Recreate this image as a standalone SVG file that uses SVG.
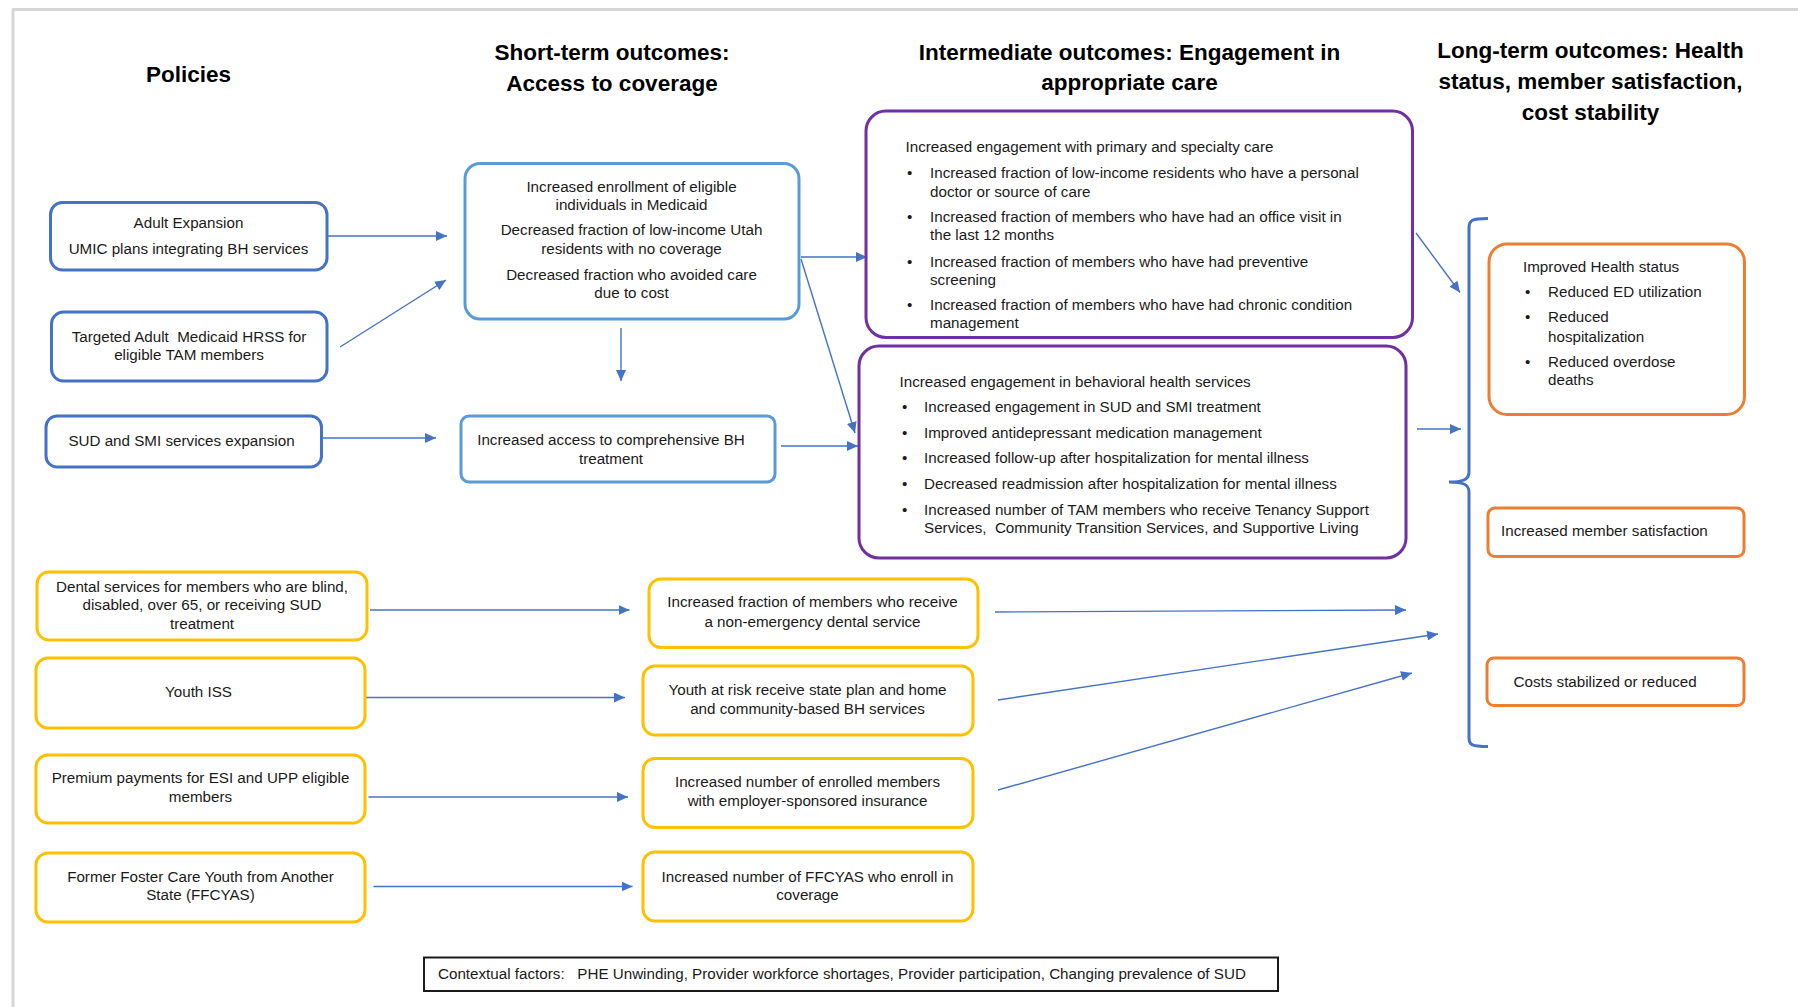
<svg xmlns="http://www.w3.org/2000/svg" width="1798" height="1007" viewBox="0 0 1798 1007">
<style>
text{font-family:"Liberation Sans",Arial,sans-serif;font-size:15.2px;fill:#1a1a1a}
.h{font-weight:bold;font-size:22.5px;fill:#000;text-anchor:middle}
.c{text-anchor:middle}
.pol{fill:#fff;stroke:#4472C4;stroke-width:3}
.st{fill:#fff;stroke:#5B9BD5;stroke-width:3}
.pur{fill:#fff;stroke:#7030A0;stroke-width:3}
.org{fill:#fff;stroke:#ED7D31;stroke-width:3}
.yel{fill:#fff;stroke:#FFC000;stroke-width:3}
.ctx{fill:#fff;stroke:#1a1a1a;stroke-width:2}
.ar{stroke:#4472C4;stroke-width:1.4;fill:none;marker-end:url(#ah)}
</style>
<defs>
<marker id="ah" viewBox="0 0 11 10" refX="11" refY="5" markerWidth="11" markerHeight="10" markerUnits="userSpaceOnUse" orient="auto">
<path d="M0,0 L11,5 L0,10 z" fill="#4472C4"/>
</marker>
</defs>
<rect width="1798" height="1007" fill="#fff"/>
<g id="frame" stroke="#d6d6d6" stroke-width="3" fill="none">
<line x1="12" y1="9.5" x2="1798" y2="9.5"/>
<line x1="13" y1="9.5" x2="13" y2="1007"/>
</g>
<g id="titles">
<text class="h" x="188.5" y="82">Policies</text>
<text class="h" x="612" y="60">Short-term outcomes:</text>
<text class="h" x="612" y="91">Access to coverage</text>
<text class="h" x="1129.5" y="60">Intermediate outcomes: Engagement in</text>
<text class="h" x="1129.5" y="90">appropriate care</text>
<text class="h" x="1590.5" y="58">Long-term outcomes: Health</text>
<text class="h" x="1590.5" y="89">status, member satisfaction,</text>
<text class="h" x="1590.5" y="120">cost stability</text>
</g>
<g id="connectors">
<line class="ar" x1="327" y1="236" x2="447" y2="236"/>
<line class="ar" x1="340" y1="347" x2="446" y2="280"/>
<line class="ar" x1="621" y1="328" x2="621" y2="381"/>
<line class="ar" x1="323" y1="438" x2="436" y2="438"/>
<line class="ar" x1="801" y1="257" x2="867" y2="257"/>
<line class="ar" x1="801" y1="259" x2="855" y2="433"/>
<line class="ar" x1="781" y1="446" x2="858" y2="446"/>
<line class="ar" x1="1416" y1="233" x2="1460" y2="292.5"/>
<line class="ar" x1="1417" y1="429" x2="1461" y2="429"/>
<line class="ar" x1="370" y1="610" x2="629.5" y2="610"/>
<line class="ar" x1="365" y1="697.5" x2="625" y2="697.5"/>
<line class="ar" x1="368.5" y1="797" x2="628" y2="797"/>
<line class="ar" x1="373.5" y1="886.5" x2="632.5" y2="886.5"/>
<line class="ar" x1="995" y1="612" x2="1406" y2="610"/>
<line class="ar" x1="998" y1="700" x2="1438" y2="634"/>
<line class="ar" x1="998" y1="790" x2="1412" y2="673"/>
<path id="bracket" d="M1488,218.5 C1472,218.5 1469,220 1469,228 L1469,472 C1469,480 1462,482 1449,482 C1462,482 1469,484 1469,492 L1469,738 C1469,745 1472,746.5 1488,746.5" fill="none" stroke="#4472C4" stroke-width="3"/>
</g>
<g id="adult-expansion">
<rect class="pol" x="50.5" y="202.5" width="276.5" height="67.5" rx="12"/>
<text class="c" x="188.5" y="228">Adult Expansion</text>
<text class="c" x="188.5" y="254">UMIC plans integrating BH services</text>
</g>
<g id="targeted-adult">
<rect class="pol" x="51.5" y="312" width="275.5" height="69" rx="12"/>
<text class="c" x="189" y="342" xml:space="preserve">Targeted Adult  Medicaid HRSS for</text>
<text class="c" x="189" y="360">eligible TAM members</text>
</g>
<g id="sud-smi">
<rect class="pol" x="46" y="416" width="275.5" height="51" rx="11"/>
<text class="c" x="181.5" y="446">SUD and SMI services expansion</text>
</g>
<g id="coverage-outcomes">
<rect class="st" x="465" y="163.5" width="334" height="155.5" rx="15"/>
<text class="c" x="631.5" y="192">Increased enrollment of eligible</text>
<text class="c" x="631.5" y="210">individuals in Medicaid</text>
<text class="c" x="631.5" y="235">Decreased fraction of low-income Utah</text>
<text class="c" x="631.5" y="254">residents with no coverage</text>
<text class="c" x="631.5" y="280">Decreased fraction who avoided care</text>
<text class="c" x="631.5" y="298">due to cost</text>
</g>
<g id="bh-access">
<rect class="st" x="461" y="416" width="314" height="66" rx="8"/>
<text class="c" x="611" y="445">Increased access to comprehensive BH</text>
<text class="c" x="611" y="464">treatment</text>
</g>
<g id="primary-care-engagement">
<rect class="pol pur" x="866" y="111" width="546.5" height="226.5" rx="20"/>
<text x="905.5" y="152">Increased engagement with primary and specialty care</text>
<text x="907" y="178">•</text><text x="930" y="178">Increased fraction of low-income residents who have a personal</text>
<text x="930" y="197">doctor or source of care</text>
<text x="907" y="222">•</text><text x="930" y="222">Increased fraction of members who have had an office visit in</text>
<text x="930" y="240">the last 12 months</text>
<text x="907" y="267">•</text><text x="930" y="267">Increased fraction of members who have had preventive</text>
<text x="930" y="285">screening</text>
<text x="907" y="310">•</text><text x="930" y="310">Increased fraction of members who have had chronic condition</text>
<text x="930" y="328">management</text>
</g>
<g id="bh-engagement">
<rect class="pur" x="859" y="346" width="547" height="212" rx="20"/>
<text x="899.5" y="387">Increased engagement in behavioral health services</text>
<text x="902" y="412">•</text><text x="924" y="412">Increased engagement in SUD and SMI treatment</text>
<text x="902" y="438">•</text><text x="924" y="438">Improved antidepressant medication management</text>
<text x="902" y="463">•</text><text x="924" y="463">Increased follow-up after hospitalization for mental illness</text>
<text x="902" y="489">•</text><text x="924" y="489">Decreased readmission after hospitalization for mental illness</text>
<text x="902" y="515">•</text><text x="924" y="515">Increased number of TAM members who receive Tenancy Support</text>
<text x="924" y="533" xml:space="preserve">Services,  Community Transition Services, and Supportive Living</text>
</g>
<g id="health-status">
<rect class="org" x="1489" y="244" width="255.5" height="170.5" rx="18"/>
<text x="1523" y="272">Improved Health status</text>
<text x="1525" y="297">•</text><text x="1548" y="297">Reduced ED utilization</text>
<text x="1525" y="322">•</text><text x="1548" y="322">Reduced</text>
<text x="1548" y="342">hospitalization</text>
<text x="1525" y="367">•</text><text x="1548" y="367">Reduced overdose</text>
<text x="1548" y="385">deaths</text>
</g>
<g id="member-satisfaction">
<rect class="org" x="1488" y="508" width="256" height="48.5" rx="7"/>
<text x="1501" y="536">Increased member satisfaction</text>
</g>
<g id="costs">
<rect class="org" x="1487" y="658" width="257" height="47.5" rx="7"/>
<text x="1513.5" y="687">Costs stabilized or reduced</text>
</g>
<g id="dental-policy">
<rect class="yel" x="37" y="572" width="330" height="68" rx="12"/>
<text class="c" x="202" y="591.5">Dental services for members who are blind,</text>
<text class="c" x="202" y="610">disabled, over 65, or receiving SUD</text>
<text class="c" x="202" y="629">treatment</text>
</g>
<g id="youth-iss">
<rect class="yel" x="36" y="658" width="329" height="70" rx="12"/>
<text class="c" x="198.5" y="697">Youth ISS</text>
</g>
<g id="premium-payments">
<rect class="yel" x="36" y="755" width="329" height="68" rx="12"/>
<text class="c" x="200.5" y="783">Premium payments for ESI and UPP eligible</text>
<text class="c" x="200.5" y="802">members</text>
</g>
<g id="ffcyas-policy">
<rect class="yel" x="36" y="853" width="329" height="69" rx="12"/>
<text class="c" x="200.5" y="882">Former Foster Care Youth from Another</text>
<text class="c" x="200.5" y="900">State (FFCYAS)</text>
</g>
<g id="dental-outcome">
<rect class="yel" x="649" y="579" width="329" height="68.5" rx="12"/>
<text class="c" x="812.5" y="607">Increased fraction of members who receive</text>
<text class="c" x="812.5" y="627">a non-emergency dental service</text>
</g>
<g id="youth-outcome">
<rect class="yel" x="643" y="666" width="330" height="69" rx="12"/>
<text class="c" x="807.5" y="695">Youth at risk receive state plan and home</text>
<text class="c" x="807.5" y="714">and community-based BH services</text>
</g>
<g id="esi-outcome">
<rect class="yel" x="643" y="758.5" width="330" height="69" rx="12"/>
<text class="c" x="807.5" y="787">Increased number of enrolled members</text>
<text class="c" x="807.5" y="806">with employer-sponsored insurance</text>
</g>
<g id="ffcyas-outcome">
<rect class="yel" x="643" y="852" width="330" height="69" rx="12"/>
<text class="c" x="807.5" y="882">Increased number of FFCYAS who enroll in</text>
<text class="c" x="807.5" y="900">coverage</text>
</g>
<g id="contextual-factors">
<rect class="ctx" x="424" y="957.5" width="854" height="33.5"/>
<text x="438" y="978.5" xml:space="preserve">Contextual factors:   PHE Unwinding, Provider workforce shortages, Provider participation, Changing prevalence of SUD</text>
</g>
</svg>
